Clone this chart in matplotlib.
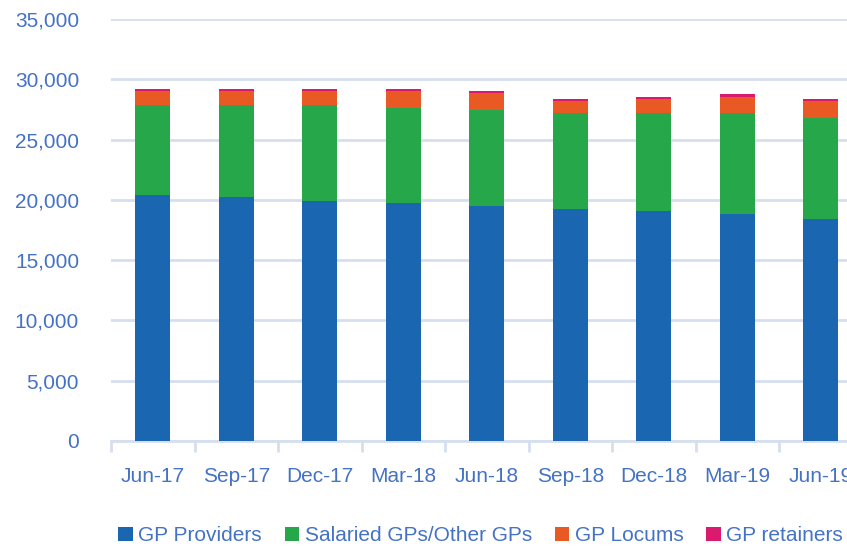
import matplotlib.pyplot as plt
from matplotlib.ticker import FuncFormatter, FixedLocator
import numpy as np

quarters = ["Jun-17", "Sep-17", "Dec-17", "Mar-18", "Jun-18", "Sep-18", "Dec-18", "Mar-19", "Jun-19"]
gp_providers = [20390, 20220, 19940, 19720, 19530, 19280, 19060, 18860, 18390]
salaried_gps = [7500, 7670, 7950, 7920, 7940, 7940, 8160, 8360, 8420]
gp_locums = [1110, 1110, 1110, 1360, 1370, 950, 1120, 1340, 1360]
gp_retainers = [225, 225, 225, 225, 165, 165, 220, 220, 165]

series_names = ["GP Providers", "Salaried GPs/Other GPs", "GP Locums", "GP retainers"]
colors = ["#1A66B0", "#25A74A", "#E95924", "#DB196E"]
text_col = "#4472C4"
grid_col = "#D6DFF0"

plt.rcParams['font.family'] = ['Liberation Sans', 'DejaVu Sans']

fig = plt.figure(figsize=(8.47, 5.49), dpi=100)
# axes deliberately runs past the right edge (the original is cropped)
ax = fig.add_axes([111 / 847, 108 / 549, 751.5 / 847, 422 / 549])

x = np.arange(len(quarters))
bottom = np.zeros(len(quarters))
for vals, name, c in zip([gp_providers, salaried_gps, gp_locums, gp_retainers], series_names, colors):
    ax.bar(x, vals, width=0.42, bottom=bottom, color=c, label=name, zorder=3)
    bottom += np.array(vals)

ax.set_xlim(-0.5, len(quarters) - 0.5)
ax.set_ylim(0, 35000)
ax.set_yticks(range(0, 35001, 5000))
ax.yaxis.set_major_formatter(FuncFormatter(lambda v, p: f"{int(v):,}"))
ax.grid(axis='y', color=grid_col, linewidth=2, zorder=0)

for s in ['top', 'right', 'left']:
    ax.spines[s].set_visible(False)
ax.spines['bottom'].set_color(grid_col)
ax.spines['bottom'].set_linewidth(2)

ax.set_xticks(x)
ax.set_xticklabels(quarters)
ax.xaxis.set_minor_locator(FixedLocator(np.arange(-0.5, len(quarters), 1.0)))
ax.tick_params(axis='x', which='major', length=0, pad=19, labelsize=15, labelcolor=text_col)
ax.tick_params(axis='x', which='minor', length=8, width=2, color=grid_col)
ax.tick_params(axis='y', length=0, pad=23, labelsize=15, labelcolor=text_col)

leg = fig.legend(loc='center left', bbox_to_anchor=(0.13, 0.024), ncol=4, frameon=False,
                 fontsize=15, handlelength=0.7, handleheight=0.7, handletextpad=0.25,
                 columnspacing=1.1, borderaxespad=0)
for t in leg.get_texts():
    t.set_color(text_col)

fig.savefig("out.png", dpi=100)
